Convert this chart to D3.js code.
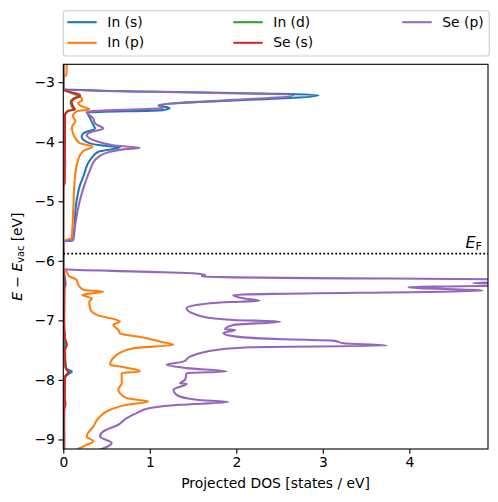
<!DOCTYPE html>
<html><head><meta charset="utf-8">
<script src="https://cdn.jsdelivr.net/npm/d3@7"></script>
<style>
html,body{margin:0;padding:0;background:#fff;}
text{font-family:"DejaVu Sans",sans-serif;fill:#000;}
</style></head>
<body><div id="chart"></div>
<script>
// ---------------- data ----------------
const seriesNames = ["In (s)", "In (p)", "In (d)", "Se (s)", "Se (p)"];
const seriesColors = ["#1f77b4", "#ff7f0e", "#2ca02c", "#d62728", "#9467bd"];

const inS_E = [-2.70,-3.117,-3.22,-3.39,-3.44,-3.47,-3.51,-3.609,-3.721,-3.777,-3.86,-3.917,-4.028,-4.073,-4.095,-4.169,-4.308,-4.588,-4.728,-4.979,-5.595,-5.662,-5.675,-6.145,-6.25,-6.33,-6.40,-6.47,-6.6,-7.0,-7.5,-7.75,-7.82,-7.86,-7.9,-7.97,-8.2,-8.6,-9.0,-9.2];
const inS_D = [0,0,2.95,1.13,1.23,1.15,0.28,0.31,0.347,0.366,0.231,0.212,0.309,0.501,0.655,0.405,0.309,0.231,0.193,0.155,0.116,0.105,0,0,0.012,0.022,0.025,0.01,0.008,0.006,0.01,0.02,0.045,0.10,0.06,0.02,0.012,0.01,0.012,0.01];

const inP_E = [-2.70,-2.88,-2.92,-3.117,-3.185,-3.252,-3.302,-3.352,-3.419,-3.453,-3.486,-3.57,-3.654,-3.755,-3.889,-4.023,-4.082,-4.157,-4.308,-4.593,-5.147,-5.617,-5.66,-5.675,-6.14,-6.154,-6.266,-6.321,-6.405,-6.489,-6.517,-6.573,-6.63,-6.69,-6.796,-6.908,-6.992,-7.02,-7.076,-7.16,-7.215,-7.299,-7.356,-7.411,-7.467,-7.579,-7.747,-7.775,-7.859,-7.886,-8.054,-8.166,-8.305,-8.362,-8.418,-8.501,-8.614,-8.782,-8.949,-9.033,-9.089,-9.144,-9.2];
const inP_D = [0.04,0.035,0,0,0.10,0.20,0.22,0.17,0.24,0.30,0.16,0.11,0.14,0.10,0.12,0.19,0.34,0.23,0.17,0.135,0.115,0.097,0.02,0,0,0.02,0.077,0.155,0.173,0.231,0.462,0.22,0.33,0.30,0.309,0.386,0.617,0.655,0.578,0.636,0.655,0.964,1.118,1.272,0.809,0.617,0.54,0.655,0.887,0.675,0.675,0.636,0.733,0.983,0.733,0.54,0.424,0.347,0.27,0.347,0.27,0.193,0.12];

const inD_E = [-2.70,-3.117,-3.163,-3.218,-3.235,-3.273,-3.33,-3.414,-3.458,-3.481,-3.553,-4.308,-4.69,-4.75,-5.675,-6.14,-6.2,-6.5,-7.0,-7.3,-7.41,-7.5,-7.8,-7.87,-7.95,-8.3,-8.4,-8.5,-9.2];
const inD_D = [0,0,0.06,0.17,0.17,0.12,0.085,0.10,0.12,0.05,0.018,0.016,0.013,0.002,0,0,0.008,0.01,0.008,0.017,0.035,0.017,0.025,0.055,0.017,0.013,0.02,0.008,0.004];

const seS_E = [-2.70,-3.117,-3.163,-3.218,-3.235,-3.273,-3.33,-3.414,-3.458,-3.481,-3.553,-4.308,-4.69,-4.75,-5.675,-6.14,-6.2,-6.5,-7.0,-7.3,-7.41,-7.5,-7.8,-7.87,-7.95,-8.3,-8.4,-8.5,-9.2];
const seS_D = [0,0,0.078,0.193,0.193,0.135,0.096,0.116,0.135,0.058,0.02,0.018,0.015,0.002,0,0,0.01,0.012,0.01,0.02,0.04,0.02,0.03,0.065,0.02,0.015,0.025,0.01,0.005];

const seP_E = [-2.70,-3.117,-3.22,-3.39,-3.43,-3.50,-3.609,-3.693,-3.777,-3.834,-3.889,-4.001,-4.073,-4.102,-4.129,-4.196,-4.308,-4.476,-4.699,-4.979,-5.427,-5.65,-5.675,-6.14,-6.185,-6.21,-6.238,-6.266,-6.33,-6.375,-6.40,-6.445,-6.50,-6.574,-6.63,-6.67,-6.686,-6.713,-6.797,-6.94,-6.993,-7.022,-7.077,-7.15,-7.16,-7.216,-7.273,-7.317,-7.34,-7.384,-7.424,-7.45,-7.497,-7.609,-7.693,-7.747,-7.802,-7.859,-7.886,-7.998,-8.054,-8.065,-8.166,-8.25,-8.334,-8.372,-8.418,-8.473,-8.557,-8.641,-8.753,-8.865,-8.949,-9.06,-9.2];
const seP_D = [0,0,2.66,1.10,1.16,0.27,0.347,0.366,0.462,0.329,0.270,0.405,0.656,0.887,0.694,0.482,0.366,0.309,0.251,0.193,0.135,0.116,0,0,1.0,1.5,1.64,1.6,6.0,4.74,5.6,3.99,4.85,1.965,2.08,2.27,2.04,1.70,1.425,1.62,1.965,2.505,1.965,1.87,1.985,1.85,2.0,2.54,3.12,3.24,3.74,2.16,1.77,1.465,1.387,1.195,1.427,1.889,1.427,1.408,1.35,1.427,1.273,1.31,1.543,1.908,1.35,1.002,0.848,0.733,0.636,0.462,0.424,0.559,0.363];

const fermiLevel = -5.88;
const xTicks = [0, 1, 2, 3, 4];
const yTicks = [-3, -4, -5, -6, -7, -8, -9];
const xDomain = [0, 4.91];
const yDomain = [-9.16, -2.70];

const energyArrays = [inS_E, inP_E, inD_E, seS_E, seP_E];
const dosArrays = [inS_D, inP_D, inD_D, seS_D, seP_D];

// ---------------- layout ----------------
const W = 498, H = 502;
const pL = 63.3, pR = 488, pT = 64.3, pB = 449;
const FS = 13.89;

const svg = d3.select("#chart").append("svg")
  .attr("width", W).attr("height", H)
  .attr("viewBox", `0 0 ${W} ${H}`);

const x = d3.scaleLinear().domain(xDomain).range([pL, pR]);
const y = d3.scaleLinear().domain(yDomain).range([pB, pT]);

svg.append("defs").append("clipPath").attr("id", "clip")
  .append("rect").attr("x", pL).attr("y", pT)
  .attr("width", pR - pL).attr("height", pB - pT);

const plot = svg.append("g").attr("clip-path", "url(#clip)");

const line = d3.line().x(d => x(d[1])).y(d => y(d[0])).curve(d3.curveMonotoneY);

seriesNames.forEach((name, i) => {
  const pts = energyArrays[i].map((e, k) => [e, dosArrays[i][k]]);
  plot.append("path").datum(pts)
    .attr("d", line)
    .attr("fill", "none")
    .attr("stroke", seriesColors[i])
    .attr("stroke-width", 2.08)
    .attr("stroke-linejoin", "round")
    .attr("stroke-linecap", "square");
});

// Fermi level
plot.append("line")
  .attr("x1", pL).attr("x2", pR)
  .attr("y1", y(fermiLevel)).attr("y2", y(fermiLevel))
  .attr("stroke", "#000").attr("stroke-width", 1.8)
  .attr("stroke-dasharray", "1.8 2.2");

const ef = svg.append("text")
  .attr("x", 482).attr("y", y(fermiLevel) - 5.5)
  .attr("text-anchor", "end")
  .style("font-size", FS + 2 + "px");
ef.append("tspan").style("font-style", "italic").text("E");
ef.append("tspan").attr("dy", 1.5).style("font-size", (FS + 2) * 0.7 + "px").text("F");

// axes
const xAxis = d3.axisBottom(x).tickValues(xTicks).tickSize(4.86).tickPadding(3.5)
  .tickFormat(d3.format("d"));
const yAxis = d3.axisLeft(y).tickValues(yTicks).tickSize(4.86).tickPadding(3.5)
  .tickFormat(d => "\u2212" + Math.abs(d));

const gx = svg.append("g").attr("transform", `translate(0,${pB})`).call(xAxis);
const gy = svg.append("g").attr("transform", `translate(${pL},0)`).call(yAxis);
[gx, gy].forEach(g => {
  g.select(".domain").remove();
  g.selectAll(".tick line").attr("stroke", "#000").attr("stroke-width", 1.1);
  g.selectAll(".tick text").attr("fill", "#000")
    .style("font-size", FS + "px").style("font-family", "DejaVu Sans");
});

// frame
svg.append("rect").attr("x", pL).attr("y", pT)
  .attr("width", pR - pL).attr("height", pB - pT)
  .attr("fill", "none").attr("stroke", "#000").attr("stroke-width", 1.1);

// axis labels
svg.append("text")
  .attr("x", (pL + pR) / 2).attr("y", 488.3)
  .attr("text-anchor", "middle").style("font-size", FS + "px")
  .text("Projected DOS [states / eV]");

const yl = svg.append("text")
  .attr("transform", `translate(21.7,${(pT + pB) / 2}) rotate(-90)`)
  .attr("text-anchor", "middle").style("font-size", FS + "px");
yl.append("tspan").style("font-style", "italic").text("E");
yl.append("tspan").text(" \u2212 ");
yl.append("tspan").style("font-style", "italic").text("E");
yl.append("tspan").attr("dy", 2.5).style("font-size", FS * 0.7 + "px").text("vac");
yl.append("tspan").attr("dy", -2.5).text(" [eV]");

// legend
const lg = svg.append("g");
lg.append("rect").attr("x", 63.3).attr("y", 10.7).attr("width", 426).attr("height", 45.3)
  .attr("rx", 2.8).attr("fill", "#fff").attr("fill-opacity", 0.8)
  .attr("stroke", "#cccccc").attr("stroke-width", 1.1);
const colX = [67.3, 233.3, 402.3];
const rowY = [22.2, 42.8];
seriesNames.forEach((name, i) => {
  const c = Math.floor(i / 2), r = i % 2;
  lg.append("line").attr("x1", colX[c]).attr("x2", colX[c] + 29.4)
    .attr("y1", rowY[r]).attr("y2", rowY[r])
    .attr("stroke", seriesColors[i]).attr("stroke-width", 2.08);
  lg.append("text").attr("x", colX[c] + 40).attr("y", rowY[r] + 4.6)
    .style("font-size", FS + "px").text(name);
});
</script></body></html>
